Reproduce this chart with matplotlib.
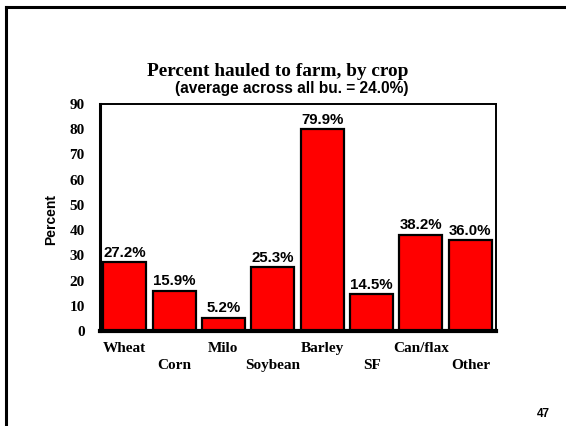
import matplotlib.pyplot as plt
from matplotlib.lines import Line2D
import numpy as np

#--- Data ---
crops = ['Wheat', 'Corn', 'Milo', 'Soybean', 'Barley', 'SF', 'Can/flax', 'Other']
pct_hauled = [27.2, 15.9, 5.2, 25.3, 79.9, 14.5, 38.2, 36.0]
yticks = [0, 10, 20, 30, 40, 50, 60, 70, 80, 90]

serif = 'Liberation Serif'
sans = 'Liberation Sans'

fig = plt.figure(figsize=(5.66, 4.26), dpi=100)
ax = fig.add_axes([100/566, 1-331/426, 396/566, 227/426])

xx = np.arange(len(crops))
ax.bar(xx, pct_hauled, width=0.87, color='#ff0000', edgecolor='black', linewidth=1.6)

# value labels above each bar
for xi, val in zip(xx, pct_hauled):
    ax.text(xi, val + 1.0, '%.1f%%' % val, ha='center', va='bottom',
            fontsize=10.8, fontweight='bold', family=sans)

ax.set_xlim(-0.50, len(crops) - 0.48)
ax.set_ylim(0, 90)
ax.set_yticks(yticks)
ax.set_yticklabels([str(t) for t in yticks], family=serif, fontweight='bold', fontsize=11)

# staggered category labels
ax.set_xticks(xx)
ax.set_xticklabels([c if i % 2 == 0 else '\n' + c for i, c in enumerate(crops)],
                   family=serif, fontweight='bold', fontsize=11, linespacing=1.4)
ax.tick_params(axis='x', length=0, pad=8)
ax.tick_params(axis='y', length=0, pad=11)

ax.set_ylabel('Percent', family=sans, fontweight='bold', fontsize=10)
ax.yaxis.set_label_coords(-0.106, 0.49)

for side in ['top', 'right']:
    ax.spines[side].set_linewidth(1.4)
ax.spines['left'].set_linewidth(2.2)
ax.spines['bottom'].set_linewidth(3.0)

# titles
fig.text(278/566, 1-71/426, 'Percent hauled to farm, by crop', ha='center', va='center',
         family=serif, fontweight='bold', fontsize=13.9)
fig.text(292/566, 1-89/426, '(average across all bu. = 24.0%)', ha='center', va='center',
         family=sans, fontweight='bold', fontsize=11.2)

# page number
fig.text(543/566, 1-414/426, '47', ha='center', va='center',
         family=sans, fontweight='bold', fontsize=8.5)

# slide frame (left and top)
fig.add_artist(Line2D([6/566, 6/566], [0, 1-7/426], color='black', lw=2.2,
                      transform=fig.transFigure, solid_capstyle='projecting'))
fig.add_artist(Line2D([6/566, 1], [1-7/426, 1-7/426], color='black', lw=2.2,
                      transform=fig.transFigure, solid_capstyle='projecting'))

plt.savefig('out.png', dpi=100)
plt.close()
